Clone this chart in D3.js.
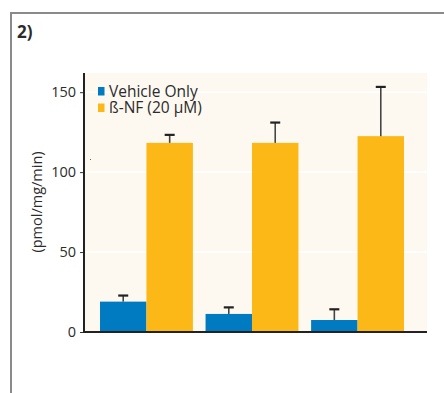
<!DOCTYPE html>
<html>
<head>
<meta charset="utf-8">
<script src="https://cdn.jsdelivr.net/npm/d3@7"></script>
<style>
  body { margin: 0; background: #fff; }
  svg text { font-family: "Open Sans", "Noto Sans", sans-serif; fill: #2b2b2b; }
</style>
</head>
<body>
<svg id="chart" width="444" height="393"></svg>
<script>
var groups = ["g1", "g2", "g3"];
var series = ["Vehicle Only", "\u00DF-NF (20 \u00B5M)"];
var vehicle = [19, 11.3, 7.5];
var vehicleErr = [22.8, 15.4, 14.2];
var bnf = [118.3, 118.3, 122.5];
var bnfErr = [123.3, 131, 153.3];
var yTicks = [0, 50, 100, 150];
var colors = ["#007bc1", "#fbb817"];

var svg = d3.select("#chart");

// panel frame (cut off on the right)
svg.append("path")
    .attr("d", "M11,393V13H444")
    .attr("fill", "none")
    .attr("stroke", "#8a8a8a")
    .attr("stroke-width", 2);
svg.append("text").attr("x", 17).attr("y", 37.5)
    .attr("font-size", 17).attr("font-weight", "bold").text("2)");

var pL = 84, pR = 427, pT = 73, pB = 332;
var y = d3.scaleLinear().domain([0, 162]).range([pB, pT]);
var x = d3.scaleBand().domain(groups).range([100, 404]).paddingInner(0.12);
var xs = d3.scaleBand().domain([0, 1]).range([0, x.bandwidth()]);

svg.append("rect").attr("x", pL).attr("y", pT)
    .attr("width", pR - pL).attr("height", pB - pT)
    .attr("fill", "#fdf9f1");

svg.append("g").selectAll("line").data(yTicks.slice(1)).enter().append("line")
    .attr("x1", pL).attr("x2", pR)
    .attr("y1", d => y(d)).attr("y2", d => y(d))
    .attr("stroke", "#fff").attr("stroke-width", 1.5);

var data = groups.map((g, i) => [
  {g: g, s: 0, v: vehicle[i], e: vehicleErr[i]},
  {g: g, s: 1, v: bnf[i], e: bnfErr[i]}
]);
var flat = [].concat.apply([], data);

var bars = svg.append("g");
bars.selectAll("rect").data(flat).enter().append("rect")
    .attr("x", d => x(d.g) + xs(d.s))
    .attr("width", xs.bandwidth())
    .attr("y", d => y(d.v))
    .attr("height", d => y(0) - y(d.v))
    .attr("fill", d => colors[d.s]);

var err = svg.append("g");
err.selectAll("line.v").data(flat).enter().append("line")
    .attr("class", "v")
    .attr("x1", d => x(d.g) + xs(d.s) + xs.bandwidth() / 2)
    .attr("x2", d => x(d.g) + xs(d.s) + xs.bandwidth() / 2)
    .attr("y1", d => y(d.v)).attr("y2", d => y(d.e))
    .attr("stroke", "#444").attr("stroke-width", 1.6);
err.selectAll("line.c").data(flat).enter().append("line")
    .attr("class", "c")
    .attr("x1", d => x(d.g) + xs(d.s) + xs.bandwidth() / 2 - 5)
    .attr("x2", d => x(d.g) + xs(d.s) + xs.bandwidth() / 2 + 5)
    .attr("y1", d => y(d.e)).attr("y2", d => y(d.e))
    .attr("stroke", "#222").attr("stroke-width", 2.2);

// axes
var yAxis = svg.append("g").attr("transform", "translate(" + pL + ",0)")
    .call(d3.axisLeft(y).tickValues(yTicks).tickSize(4).tickPadding(4));
yAxis.select(".domain").remove();
yAxis.selectAll(".tick line").attr("stroke", "#333");
yAxis.selectAll(".tick text").attr("font-size", 14.5)
    .attr("font-family", "Open Sans, sans-serif").attr("fill", "#2b2b2b");
svg.append("line").attr("x1", pL).attr("x2", pL)
    .attr("y1", pT).attr("y2", pB + 1)
    .attr("stroke", "#222").attr("stroke-width", 2);
svg.append("line").attr("x1", pL - 1).attr("x2", pR)
    .attr("y1", pB).attr("y2", pB)
    .attr("stroke", "#222").attr("stroke-width", 2);

svg.append("text")
    .attr("transform", "translate(42,202) rotate(-90)")
    .attr("text-anchor", "middle").attr("font-size", 14.5)
    .text("(pmol/mg/min)");

// stray dot in the original
svg.append("rect").attr("x", 90).attr("y", 159).attr("width", 1).attr("height", 1).attr("fill", "#666");

// legend
var lg = svg.append("g").selectAll("g").data(series).enter().append("g")
    .attr("transform", (d, i) => "translate(98," + (87 + i * 16.5) + ")");
lg.append("rect").attr("width", 6.5).attr("height", 8.5)
    .attr("fill", (d, i) => colors[i]);
lg.append("text").attr("x", 11).attr("y", 9.5).attr("font-size", 15.5).text(d => d);
</script>
</body>
</html>
